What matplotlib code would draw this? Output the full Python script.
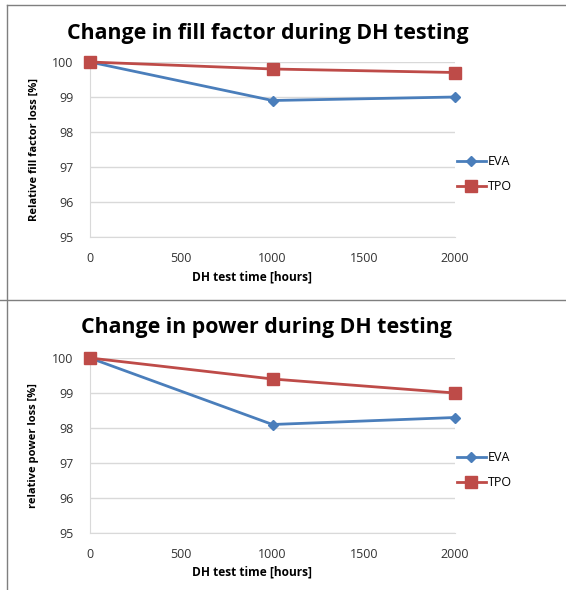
import matplotlib
matplotlib.use("Agg")
import matplotlib.pyplot as plt
from matplotlib.lines import Line2D

hours = [0, 1000, 2000]
ff_eva = [100, 98.9, 99.0]
ff_tpo = [100, 99.8, 99.7]
pw_eva = [100, 98.1, 98.3]
pw_tpo = [100, 99.4, 99.0]
series_names = ["EVA", "TPO"]
titles = ["Change in fill factor during DH testing", "Change in power during DH testing"]
ylabels = ["Relative fill factor loss [%]", "relative power loss [%]"]
xlabel = "DH test time [hours]"
yticks = [95, 96, 97, 98, 99, 100]
xticks = [0, 500, 1000, 1500, 2000]

BLUE = "#4A7EBB"
RED = "#BE4B48"
W, H = 566, 590
plt.rcParams['font.family'] = ['Open Sans', 'DejaVu Sans']

fig = plt.figure(figsize=(W / 100, H / 100), dpi=100)

def fx(px):
    return px / W

def fy(py):
    return 1 - py / H

panels = [
    dict(top=62, bottom=237, eva=ff_eva, tpo=ff_tpo, title=titles[0], ylabel=ylabels[0], title_y=33, xl_y=277, leg_y=174, tx=268),
    dict(top=358, bottom=533, eva=pw_eva, tpo=pw_tpo, title=titles[1], ylabel=ylabels[1], title_y=327, xl_y=572, leg_y=470, tx=266),
]

for p in panels:
    ax = fig.add_axes([fx(90), fy(p['bottom']), fx(455 - 90), (p['bottom'] - p['top']) / H])
    ax.plot(hours, p['eva'], color=BLUE, lw=2, marker='D', ms=5, label=series_names[0], zorder=3)
    ax.plot(hours, p['tpo'], color=RED, lw=2, marker='s', ms=8, label=series_names[1], zorder=3)
    ax.set_xlim(0, 2000)
    ax.set_ylim(95, 100)
    ax.set_xticks(xticks)
    ax.set_yticks(yticks)
    ax.grid(axis='y', color='#D9D9D9', lw=1)
    ax.set_axisbelow(True)
    for s in ['top', 'right']:
        ax.spines[s].set_visible(False)
    ax.spines['left'].set_color('#D9D9D9')
    ax.spines['bottom'].set_color('#D9D9D9')
    ax.tick_params(axis='y', length=0, labelsize=9, colors='#333333', pad=12)
    ax.tick_params(axis='x', length=0, labelsize=9, colors='#333333', pad=11)
    ax.set_ylabel(p['ylabel'], fontsize=8, fontweight='bold', labelpad=9)
    fig.text(fx(252), fy(p['xl_y']), xlabel, fontsize=8.6, fontweight='bold', ha='center', va='center')
    fig.text(fx(p['tx']), fy(p['title_y']), p['title'], fontsize=15.4, fontweight='bold', ha='center', va='center')
    ax.legend(loc='center left', bbox_to_anchor=(fx(457), fy(p['leg_y'])), bbox_transform=fig.transFigure,
              frameon=False, fontsize=9, handlelength=2.3, handletextpad=0.15, labelspacing=0.95,
              borderpad=0, borderaxespad=0)
    for l in ax.get_lines():
        l.set_clip_on(False)

# panel borders
border = '#7F7F7F'
fig.add_artist(Line2D([fx(7), 1], [fy(5), fy(5)], color=border, lw=1))
fig.add_artist(Line2D([fx(7), fx(7)], [fy(5), 0], color=border, lw=1))
fig.add_artist(Line2D([0, 1], [fy(300), fy(300)], color=border, lw=1))

fig.savefig("out.png", dpi=100)
